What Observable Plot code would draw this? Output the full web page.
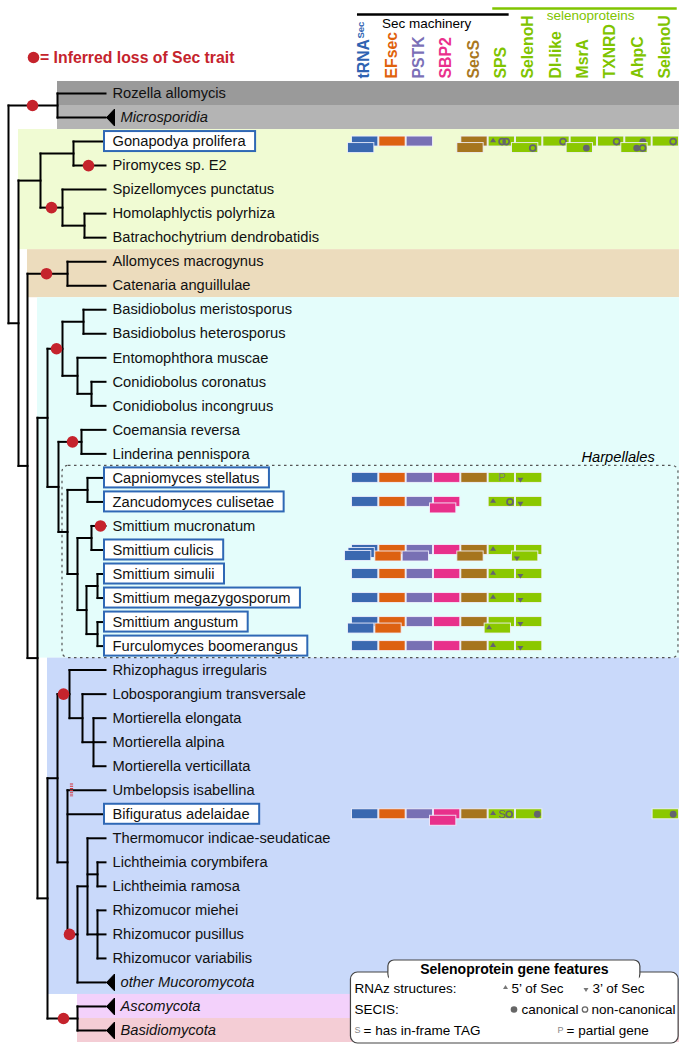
<!DOCTYPE html>
<html><head><meta charset="utf-8">
<script src="https://cdn.jsdelivr.net/npm/d3@7"></script>
<script src="https://cdn.jsdelivr.net/npm/@observablehq/plot@0.6"></script>
<style>html,body{margin:0;padding:0;background:#fff}#chart svg{display:block}</style>
</head><body><div id="chart"></div>
<script>
// ---------------- DATA ----------------
// Phylogeny: internal nodes {id, d: depth, c: children}; leaves are names
const tree = {id:"root", d:8, c:[
  {id:"Cryptomycota", d:57, c:["Rozella allomycis","Microsporidia"]},
  {id:"B", d:18, c:[
    {id:"Chytridiomycota", d:40, c:[
      {id:"GP", d:73, c:["Gonapodya prolifera","Piromyces sp. E2"]},
      {id:"Chytridiomycetes", d:62, c:["Spizellomyces punctatus",
        {id:"HB", d:84, c:["Homolaphlyctis polyrhiza","Batrachochytrium dendrobatidis"]}]}
    ]},
    {id:"D", d:27, c:[
      {id:"Blastocladiomycota", d:67, c:["Allomyces macrogynus","Catenaria anguillulae"]},
      {id:"E", d:37, c:[
        {id:"Zoopagomycota", d:47, c:[
          {id:"Entomophthoromycotina", d:62, c:[
            {id:"Basid", d:83, c:["Basidiobolus meristosporus","Basidiobolus heterosporus"]},
            {id:"EC", d:77, c:["Entomophthora muscae",
              {id:"Con", d:91, c:["Conidiobolus coronatus","Conidiobolus incongruus"]}]}
          ]},
          {id:"Kickxellomycotina", d:58, c:[
            {id:"CL", d:81, c:["Coemansia reversa","Linderina pennispora"]},
            {id:"Harpellales", d:67, c:[
              {id:"CZ", d:87, c:["Capniomyces stellatus","Zancudomyces culisetae"]},
              {id:"Smittium", d:77, c:[
                {id:"SmC", d:91, c:["Smittium mucronatum","Smittium culicis"]},
                {id:"SmL", d:86, c:[
                  {id:"SS", d:97, c:["Smittium simulii","Smittium megazygosporum"]},
                  {id:"SF", d:97, c:["Smittium angustum","Furculomyces boomerangus"]}
                ]}
              ]}
            ]}
          ]}
        ]},
        {id:"MD", d:47, c:[
          {id:"Mucoromycota", d:57, c:[
            {id:"GM", d:69, c:["Rhizophagus irregularis",
              {id:"LM", d:82, c:["Lobosporangium transversale",
                {id:"Mort", d:93, c:["Mortierella elongata","Mortierella alpina","Mortierella verticillata"]}]}]},
            {id:"Mucoromycotina", d:67, c:["Umbelopsis isabellina","Bifiguratus adelaidae",
              {id:"F", d:77, c:[
                {id:"G", d:87, c:["Thermomucor indicae-seudaticae",
                  {id:"Licht", d:97, c:["Lichtheimia corymbifera","Lichtheimia ramosa"]},
                  {id:"Rhizo", d:97, c:["Rhizomucor miehei","Rhizomucor pusillus","Rhizomucor variabilis"]}]},
                "other Mucoromycota"
              ]}]}
          ]},
          {id:"Dikarya", d:77, c:["Ascomycota","Basidiomycota"]}
        ]}
      ]}
    ]}
  ]}
]};
const tipDepth = 105;

const collapsedClades = ["Microsporidia","other Mucoromycota","Ascomycota","Basidiomycota"];
const boxedTaxa = ["Gonapodya prolifera","Capniomyces stellatus","Zancudomyces culisetae","Smittium culicis",
  "Smittium simulii","Smittium megazygosporum","Smittium angustum","Furculomyces boomerangus","Bifiguratus adelaidae"];

// inferred losses: [node, depth on branch]
const losses = [["Cryptomycota",32],["Piromyces sp. E2",88],["Chytridiomycetes",51],["Blastocladiomycota",46],
  ["Entomophthoromycotina",56],["CL",72],["Smittium mucronatum",100],["GM",63],["F",69],["Dikarya",63]];
const uncertainLosses = [["Umbelopsis isabellina",71]];

// clade shading: [first taxon, last taxon, node whose depth starts the band, colour]
const bands = [
  ["Rozella allomycis","Rozella allomycis","Cryptomycota","#9a9a9a"],
  ["Microsporidia","Microsporidia","Cryptomycota","#b4b4b4"],
  ["Gonapodya prolifera","Batrachochytrium dendrobatidis","B","#f0fbd3"],
  ["Allomyces macrogynus","Catenaria anguillulae","D","#ecdcbd"],
  ["Basidiobolus meristosporus","Furculomyces boomerangus","E","#e4fdfb"],
  ["Rhizophagus irregularis","other Mucoromycota","MD","#c9d9fa"],
  ["Ascomycota","Ascomycota","Dikarya","#f3d1fb"],
  ["Basidiomycota","Basidiomycota","Dikarya","#f4cdd5"]
];

const genes = ["tRNA","EFsec","PSTK","SBP2","SecS","SPS","SelenoH","DI-like","MsrA","TXNRD","AhpC","SelenoU"];
const blockColors = ["#3a68b0","#dd6111","#7870b4","#e8308b","#a6751e","#8bc800","#8bc800","#8bc800","#8bc800","#8bc800","#8bc800","#8bc800"];
const labelColors = ["#2f63b2","#e0620c","#7b6fb7","#ea2f8c","#a9781f","#80c400","#80c400","#80c400","#80c400","#80c400","#80c400","#80c400"];

// gene copy counts per column
const geneCounts = [
  ["Gonapodya prolifera",      [2,1,1,0,2,1,2,1,2,1,2,1]],
  ["Capniomyces stellatus",    [1,1,1,1,1,1,1,0,0,0,0,0]],
  ["Zancudomyces culisetae",   [1,1,1,2,0,1,1,0,0,0,0,0]],
  ["Smittium culicis",         [3,2,2,1,2,1,2,0,0,0,0,0]],
  ["Smittium simulii",         [1,1,1,1,1,1,1,0,0,0,0,0]],
  ["Smittium megazygosporum",  [1,1,1,1,1,1,1,0,0,0,0,0]],
  ["Smittium angustum",        [2,2,1,1,1,2,1,0,0,0,0,0]],
  ["Furculomyces boomerangus", [1,1,1,1,1,1,1,0,0,0,0,0]],
  ["Bifiguratus adelaidae",    [1,1,1,2,1,1,1,0,0,0,0,1]]
];

// selenoprotein gene features: [taxon, gene, copy, kind, place within block 0..1]
const features = [
  ["Gonapodya prolifera","SPS",0,"up",0.18],
  ["Gonapodya prolifera","SPS",0,"open",0.51],
  ["Gonapodya prolifera","SPS",0,"open",0.66],
  ["Gonapodya prolifera","SelenoH",1,"open",0.78],
  ["Gonapodya prolifera","DI-like",0,"open",0.74],
  ["Gonapodya prolifera","MsrA",1,"filled",0.74],
  ["Gonapodya prolifera","TXNRD",0,"open",0.7],
  ["Gonapodya prolifera","AhpC",0,"filled",0.66],
  ["Gonapodya prolifera","AhpC",1,"filled",0.58],
  ["Gonapodya prolifera","AhpC",1,"open",0.8],
  ["Gonapodya prolifera","SelenoU",0,"open",0.77],
  ["Capniomyces stellatus","SPS",0,"P",0.5],
  ["Capniomyces stellatus","SelenoH",0,"down",0.18],
  ["Zancudomyces culisetae","SPS",0,"up",0.18],
  ["Zancudomyces culisetae","SPS",0,"open",0.8],
  ["Zancudomyces culisetae","SelenoH",0,"down",0.18],
  ["Smittium culicis","SPS",0,"up",0.18],
  ["Smittium culicis","SelenoH",1,"down",0.2],
  ["Smittium simulii","SPS",0,"up",0.18],
  ["Smittium simulii","SelenoH",0,"down",0.18],
  ["Smittium megazygosporum","SPS",0,"up",0.18],
  ["Smittium megazygosporum","SelenoH",0,"down",0.18],
  ["Smittium angustum","SPS",1,"up",0.18],
  ["Smittium angustum","SelenoH",0,"down",0.18],
  ["Furculomyces boomerangus","SPS",0,"up",0.18],
  ["Furculomyces boomerangus","SelenoH",0,"down",0.18],
  ["Bifiguratus adelaidae","SPS",0,"up",0.18],
  ["Bifiguratus adelaidae","SPS",0,"S",0.5],
  ["Bifiguratus adelaidae","SPS",0,"open",0.77],
  ["Bifiguratus adelaidae","SelenoH",0,"filled",0.8],
  ["Bifiguratus adelaidae","SelenoU",0,"filled",0.77]
];

// ---------------- LAYOUT ----------------
const W = 690, H = 1050;
const rowTop = 93, rowBottom = 1030;
const colLeft = 351, colStep = 27.33;
const colX = i => colLeft + i * colStep;
const FONT = "'Liberation Sans', Arial, Helvetica, sans-serif";
const symCol = "#64646e";
const nameSize = 14.7;

const leaves = [], nodes = {}, hSegs = [], vSegs = [];
function layout(node) {
  if (typeof node === "string") {
    const leaf = {name: node, row: leaves.length, depth: tipDepth,
      collapsed: collapsedClades.includes(node), boxed: boxedTaxa.includes(node)};
    leaves.push(leaf); nodes[node] = leaf; return leaf;
  }
  const kids = node.c.map(layout);
  const n = {name: node.id, depth: node.d, row: (kids[0].row + kids[kids.length - 1].row) / 2};
  nodes[node.id] = n;
  vSegs.push({x: node.d, y1: kids[0].row, y2: kids[kids.length - 1].row});
  kids.forEach(k => hSegs.push({x1: node.d, x2: k.depth, y: k.row}));
  return n;
}
layout(tree);
const rowStep = (rowBottom - rowTop) / (leaves.length - 1);
const pr = p => p / rowStep;                 // pixel offset -> rows
const yAt = p => (p - rowTop) / rowStep;     // page pixel -> rows (annotations)

// text widths for the highlighted-name boxes
const ctx = document.createElement("canvas").getContext("2d");
ctx.font = nameSize + "px " + FONT;
const boxes = leaves.filter(d => d.boxed).map(d => ({...d, x2: tipDepth + 7 + ctx.measureText(d.name).width + 10}));

// collapsed-clade triangles
const triPts = [];
collapsedClades.forEach(name => {
  const r = nodes[name].row;
  triPts.push({id: name, x: tipDepth + 1, y: r}, {id: name, x: tipDepth + 9, y: r - 0.35},
              {id: name, x: tipDepth + 9, y: r + 0.35}, {id: name, x: tipDepth + 1, y: r});
});

// gene blocks
function copyOffset(k, n) {
  if (k === 0) return {dx: 0, dy: 0};
  if (n === 2) return {dx: -4, dy: 6.5};
  return {dx: -3.5 * k, dy: 3 * k};
}
const blocks = [];
geneCounts.forEach(([taxon, counts]) => {
  counts.forEach((n, gi) => {
    for (let k = 0; k < n; k++) {
      const o = copyOffset(k, n);
      blocks.push({taxon, gene: genes[gi], k, n, color: blockColors[gi],
        x1: colX(gi) + o.dx + 0.5, x2: colX(gi + 1) + o.dx - 0.5,
        y1: nodes[taxon].row + pr(o.dy - 5), y2: nodes[taxon].row + pr(o.dy + 5)});
    }
  });
});
const feats = features.map(([taxon, gene, k, kind, f]) => {
  const gi = genes.indexOf(gene);
  const n = geneCounts.find(g => g[0] === taxon)[1][gi];
  const o = copyOffset(k, n);
  return {taxon, gene, k, kind, x: colX(gi) + o.dx + f * colStep, y: nodes[taxon].row + pr(o.dy)};
});
function triangle(id, cx, cy, dir, w = 6, h = 4.6) {
  const s = dir === "up" ? -1 : 1;
  return [{id, x: cx - w / 2, y: cy - pr(s * h / 2)}, {id, x: cx + w / 2, y: cy - pr(s * h / 2)},
          {id, x: cx, y: cy + pr(s * h / 2)}, {id, x: cx - w / 2, y: cy - pr(s * h / 2)}];
}

// ---------------- MARKS ----------------
const marks = [];
marks.push(Plot.rect(bands, {
  x1: d => nodes[d[2]].depth, x2: colX(12),
  y1: d => nodes[d[0]].row - 0.5, y2: d => nodes[d[1]].row + 0.5, fill: d => d[3]
}));
// Harpellales dashed frame
marks.push(Plot.rect([nodes["Harpellales"]], {
  x1: d => d.depth - 5, x2: colX(12) - 1,
  y1: nodes["Capniomyces stellatus"].row - 0.5, y2: nodes["Furculomyces boomerangus"].row + 0.5,
  fill: "none", stroke: "#555", strokeWidth: 1.2, strokeDasharray: "2.5,3.5", rx: 6
}));
marks.push(Plot.text(["Harpellales"], {x: colX(11.1), y: nodes["Capniomyces stellatus"].row - 0.85,
  text: d => d, textAnchor: "end", fontStyle: "italic", fontSize: nameSize}));

// tree
marks.push(Plot.link(vSegs, {x1: "x", x2: "x", y1: "y1", y2: "y2", stroke: "#000", strokeWidth: 2, strokeLinecap: "square"}));
marks.push(Plot.link(hSegs, {x1: "x1", x2: "x2", y1: "y", y2: "y", stroke: "#000", strokeWidth: 2, strokeLinecap: "square"}));
marks.push(Plot.line(triPts, {x: "x", y: "y", z: "id", fill: "#000", stroke: "#000", strokeWidth: 1}));
marks.push(Plot.dot(losses, {x: d => d[1], y: d => nodes[d[0]].row, r: 5.8, fill: "#c5232c", stroke: "none"}));
marks.push(Plot.link(uncertainLosses, {x1: d => d[1], x2: d => d[1], y1: d => nodes[d[0]].row - 0.28, y2: d => nodes[d[0]].row + 0.28,
  stroke: "#d2313a", strokeWidth: 3.2, strokeDasharray: "1,1.2"}));

// name boxes and labels
marks.push(Plot.rect(boxes, {x1: tipDepth - 1, x2: "x2", y1: d => d.row - pr(10), y2: d => d.row + pr(10),
  fill: "white", stroke: "#2f68b5", strokeWidth: 2}));
marks.push(Plot.text(leaves.filter(d => !d.collapsed), {x: tipDepth + 7, y: "row", text: "name", textAnchor: "start", fontSize: nameSize, fill: "#111"}));
marks.push(Plot.text(leaves.filter(d => d.collapsed), {x: tipDepth + 15, y: "row", text: "name", textAnchor: "start", fontSize: nameSize, fontStyle: "italic", fill: "#111"}));

// loss legend
marks.push(Plot.dot([0], {x: 33, y: yAt(57), r: 5.8, fill: "#c5232c", stroke: "none"}));
marks.push(Plot.text(["= Inferred loss of Sec trait"], {x: 39.5, y: yAt(57), text: d => d, textAnchor: "start",
  fontSize: 15.8, fontWeight: "bold", fill: "#c5232c"}));

// column headers
marks.push(Plot.text(genes, {x: (d, i) => colX(i + 0.5) - 1, y: yAt(78), text: d => d, rotate: -90, textAnchor: "start",
  fontSize: 15.8, fontWeight: "bold", fill: (d, i) => labelColors[i]}));
marks.push(Plot.text(["Sec"], {x: colX(0.5) - 4.5, y: yAt(38), text: d => d, rotate: -90, textAnchor: "start",
  fontSize: 9.5, fontWeight: "bold", fill: labelColors[0]}));
marks.push(Plot.link([0], {x1: colX(0.2), x2: colX(5.75), y1: yAt(14), y2: yAt(14), stroke: "#000", strokeWidth: 2.5}));
marks.push(Plot.link([0], {x1: colX(5.15), x2: colX(11.9), y1: yAt(8), y2: yAt(8), stroke: "#80c400", strokeWidth: 2.5}));
marks.push(Plot.text(["Sec machinery"], {x: colX(2.75), y: yAt(23), text: d => d, fontSize: 13.5, fill: "#000"}));
marks.push(Plot.text(["selenoproteins"], {x: colX(8.75), y: yAt(15.5), text: d => d, fontSize: 13.5, fill: "#80c400"}));

// gene blocks, layered by copy
for (let k = 0; k < 3; k++) {
  const b = blocks.filter(d => d.k === k);
  const f = feats.filter(d => d.k === k);
  marks.push(Plot.rect(b, {x1: "x1", x2: "x2", y1: "y1", y2: "y2", fill: "color", stroke: "#f2f2ff", strokeOpacity: 0.85, strokeWidth: 1}));
  const tri = [];
  f.filter(d => d.kind === "up" || d.kind === "down").forEach((d, i) =>
    tri.push(...triangle(k + "-" + i, d.x, d.y + pr(d.kind === "up" ? -1.5 : 2.2), d.kind)));
  marks.push(Plot.line(tri, {x: "x", y: "y", z: "id", fill: symCol, stroke: "none"}));
  marks.push(Plot.dot(f.filter(d => d.kind === "filled"), {x: "x", y: "y", r: 3.4, fill: symCol, stroke: "none"}));
  marks.push(Plot.dot(f.filter(d => d.kind === "open"), {x: "x", y: "y", r: 3, fill: "none", stroke: symCol, strokeWidth: 1.7}));
  marks.push(Plot.text(f.filter(d => d.kind === "S" || d.kind === "P"), {x: "x", y: "y", text: "kind", fontSize: 11,
    fill: d => d.kind === "P" ? "#7a7a7a" : symCol}));
}

// feature legend
const L = {x1: colX(-0.02), x2: colX(11.97), top: yAt(972), bottom: yAt(1043), tabX1: colX(1.35), tabX2: colX(10.57), tabTop: yAt(960)};
marks.push(Plot.rect([0], {x1: L.x1, x2: L.x2, y1: L.top, y2: L.bottom, fill: "white", stroke: "#444", strokeWidth: 1.2, rx: 7}));
marks.push(Plot.rect([0], {x1: L.tabX1, x2: L.tabX2, y1: L.tabTop, y2: L.top + pr(8), fill: "white", stroke: "#444", strokeWidth: 1.2, rx: 6}));
marks.push(Plot.rect([0], {x1: L.tabX1 + 1, x2: L.tabX2 - 1, y1: L.top - pr(1), y2: L.top + pr(9), fill: "white", stroke: "none"}));
marks.push(Plot.text(["Selenoprotein gene features"], {x: (L.tabX1 + L.tabX2) / 2, y: yAt(969.5), text: d => d, fontSize: 14, fontWeight: "bold"}));
const legendRows = [yAt(988), yAt(1009), yAt(1030)];
const legendTexts = [
  {x: 354, y: legendRows[0], t: "RNAz structures:"},
  {x: 511, y: legendRows[0], t: "5\u2019 of Sec"},
  {x: 592, y: legendRows[0], t: "3\u2019 of Sec"},
  {x: 354, y: legendRows[1], t: "SECIS:"},
  {x: 521, y: legendRows[1], t: "canonical"},
  {x: 591, y: legendRows[1], t: "non-canonical"},
  {x: 363, y: legendRows[2], t: "= has in-frame TAG"},
  {x: 566, y: legendRows[2], t: "= partial gene"}
];
marks.push(Plot.text(legendTexts, {x: "x", y: "y", text: "t", textAnchor: "start", fontSize: 13.5}));
marks.push(Plot.text([{x: 357, t: "S"}, {x: 560, t: "P"}], {x: "x", y: legendRows[2], text: "t", fontSize: 9, fill: "#888"}));
marks.push(Plot.line([...triangle("lu", 505, legendRows[0] - pr(1.5), "up", 5, 4), ...triangle("ld", 585.5, legendRows[0] + pr(1.5), "down", 5, 4)],
  {x: "x", y: "y", z: "id", fill: "#777", stroke: "none"}));
marks.push(Plot.dot([0], {x: 513.5, y: legendRows[1], r: 3.3, fill: "#666", stroke: "none"}));
marks.push(Plot.dot([0], {x: 584.5, y: legendRows[1], r: 2.7, fill: "none", stroke: "#666", strokeWidth: 1.3}));

const chart = Plot.plot({
  width: W, height: H, margin: 0,
  x: {domain: [0, W], range: [0, W], axis: null},
  y: {domain: [0, leaves.length - 1], range: [rowTop, rowBottom], axis: null},
  color: {type: "identity"},
  style: {fontFamily: FONT, background: "white", overflow: "visible"},
  marks
});
document.getElementById("chart").appendChild(chart);
</script></body></html>
